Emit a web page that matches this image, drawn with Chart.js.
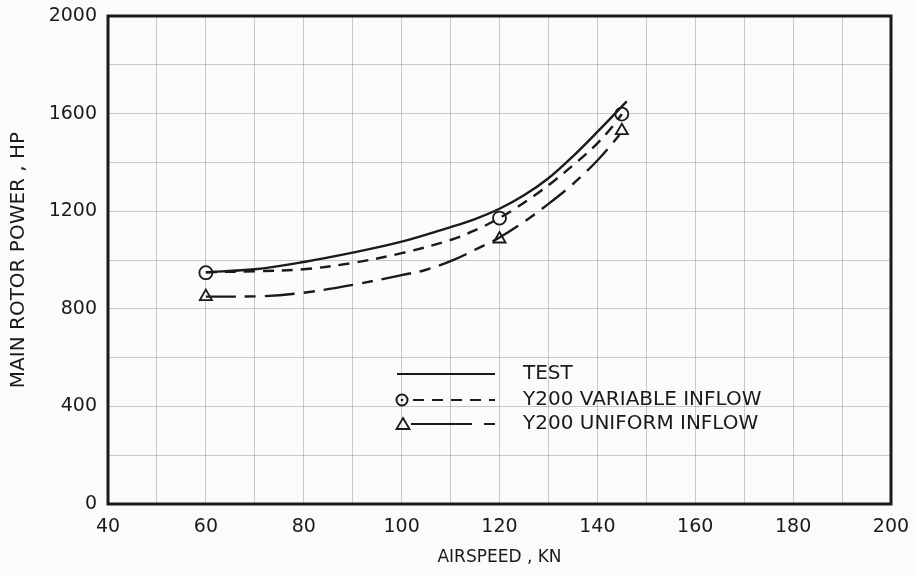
<!DOCTYPE html>
<html>
<head>
<meta charset="utf-8">
<script src="https://cdn.jsdelivr.net/npm/chart.js@4.4.1/dist/chart.umd.min.js"></script>
<style>
  html, body { margin: 0; padding: 0; background: #fbfbfa; }
  #wrap { width: 915px; height: 576px; position: relative; }
</style>
</head>
<body>
<div id="wrap"><canvas id="c" width="915" height="576"></canvas></div>
<script>
// ---- data ----
const testX = [60, 70, 80, 90, 100, 110, 115, 120, 125, 130, 135, 140, 146];
const testY = [950, 962, 992, 1030, 1075, 1135, 1168, 1210, 1265, 1335, 1425, 1525, 1650];

const variableX = [60, 70, 80, 90, 100, 110, 116, 120, 123, 127, 131, 136, 140, 143, 145];
const variableY = [950, 954, 962, 988, 1028, 1082, 1131, 1172, 1208, 1262, 1322, 1405, 1478, 1545, 1598];

const uniformX = [60, 72, 80, 90, 100, 105, 111, 116, 120, 126, 130, 134, 137, 140, 143, 144.5];
const uniformY = [850, 852, 866, 898, 938, 960, 1004, 1052, 1092, 1170, 1230, 1294, 1348, 1408, 1476, 1512];

const circleX = [60, 120, 145];
const circleY = [948, 1172, 1598];
const triangleX = [60, 120, 145];
const triangleY = [850, 1086, 1530];

const xTickLabels = [40, 60, 80, 100, 120, 140, 160, 180, 200];
const yTickLabels = [0, 400, 800, 1200, 1600, 2000];

const legendLabels = ['TEST', 'Y200 VARIABLE INFLOW', 'Y200 UNIFORM INFLOW'];
const xTitle = 'AIRSPEED , KN';
const yTitle = 'MAIN ROTOR POWER , HP';

const pts = (xs, ys) => xs.map((x, i) => ({ x: x, y: ys[i] }));

const INK = '#1a1a1a';
const BG = '#fbfbfa';
Chart.defaults.font.family = "'DejaVu Sans', sans-serif";
Chart.defaults.color = INK;

const framePlugin = {
  id: 'frame',
  afterDraw(chart) {
    const { ctx, chartArea: a } = chart;
    ctx.save();
    ctx.strokeStyle = INK;
    ctx.lineWidth = 3;
    ctx.strokeRect(a.left, a.top, a.right - a.left, a.bottom - a.top);

    // legend (drawn inside the plot area)
    const lx0 = 397, lx1 = 495, tx = 523;
    const rows = [374, 400, 424];
    ctx.lineWidth = 2;
    ctx.font = "20px 'DejaVu Sans', sans-serif";
    ctx.textBaseline = 'middle';
    ctx.fillStyle = INK;
    ctx.setLineDash([]);
    ctx.beginPath(); ctx.moveTo(lx0, rows[0]); ctx.lineTo(lx1, rows[0]); ctx.stroke();
    ctx.beginPath(); ctx.arc(402, rows[1], 5.5, 0, Math.PI * 2); ctx.stroke();
    ctx.beginPath(); ctx.arc(402, rows[1], 1.3, 0, Math.PI * 2); ctx.fill();
    ctx.setLineDash([11, 8]);
    ctx.beginPath(); ctx.moveTo(413, rows[1]); ctx.lineTo(lx1, rows[1]); ctx.stroke();
    ctx.setLineDash([]);
    ctx.lineWidth = 1.8;
    ctx.beginPath();
    ctx.moveTo(403, rows[2] - 6); ctx.lineTo(409.5, rows[2] + 5); ctx.lineTo(396.5, rows[2] + 5); ctx.closePath();
    ctx.stroke();
    ctx.lineWidth = 2;
    ctx.beginPath(); ctx.moveTo(411, rows[2]); ctx.lineTo(472, rows[2]); ctx.stroke();
    ctx.beginPath(); ctx.moveTo(484, rows[2]); ctx.lineTo(lx1, rows[2]); ctx.stroke();
    legendLabels.forEach((t, i) => ctx.fillText(t, tx, rows[i]));
    ctx.restore();
  }
};

new Chart(document.getElementById('c'), {
  type: 'scatter',
  data: {
    datasets: [
      { label: legendLabels[0], data: pts(testX, testY), showLine: true, borderColor: INK,
        borderWidth: 2.4, pointRadius: 0, tension: 0.35 },
      { label: legendLabels[1], data: pts(variableX, variableY), showLine: true, borderColor: INK,
        borderWidth: 2.4, borderDash: [11, 8], pointRadius: 0, tension: 0.35 },
      { label: legendLabels[2], data: pts(uniformX, uniformY), showLine: true, borderColor: INK,
        borderWidth: 2.4, borderDash: [30, 9, 11, 9], pointRadius: 0, tension: 0.35 },
      { label: 'circles', data: pts(circleX, circleY), pointStyle: 'circle', pointRadius: 6.5,
        borderColor: INK, backgroundColor: BG, pointBorderWidth: 1.8 },
      { label: 'triangles', data: pts(triangleX, triangleY), pointStyle: 'triangle', pointRadius: 7,
        borderColor: INK, backgroundColor: BG, pointBorderWidth: 1.8 },
      { label: 'dots', data: pts(circleX, circleY).concat(pts(triangleX, triangleY)), pointStyle: 'circle',
        pointRadius: 1.3, borderColor: INK, backgroundColor: INK, pointBorderWidth: 0 }
    ]
  },
  options: {
    responsive: false,
    animation: false,
    layout: { padding: { left: 0, right: 24, top: 16, bottom: 0 } },
    plugins: { legend: { display: false }, tooltip: { enabled: false } },
    scales: {
      x: {
        type: 'linear', min: 40, max: 200,
        border: { display: false },
        grid: { color: 'rgba(0,0,0,0.2)', lineWidth: 1, drawTicks: false },
        ticks: { stepSize: 10, padding: 12, font: { size: 19 }, color: INK,
          autoSkip: false, maxRotation: 0,
          callback: v => xTickLabels.includes(v) ? String(v) : '' },
        title: { display: true, text: xTitle, font: { size: 17 }, color: INK, padding: { top: 0, bottom: 8 } },
        afterFit: s => { s.height = 72; s.paddingRight = 0; s.paddingLeft = 0; }
      },
      y: {
        type: 'linear', min: 0, max: 2000,
        border: { display: false },
        grid: { color: 'rgba(0,0,0,0.2)', lineWidth: 1, drawTicks: false },
        ticks: { stepSize: 200, padding: 11, font: { size: 19 }, color: INK, autoSkip: false,
          callback: v => yTickLabels.includes(v) ? String(v) : '' },
        title: { display: true, text: yTitle, font: { size: 20 }, color: INK, padding: { top: 7, bottom: 0 } },
        afterFit: s => { s.width = 108; s.paddingTop = 0; s.paddingBottom = 0; }
      }
    }
  },
  plugins: [framePlugin]
});
</script>
</body>
</html>
